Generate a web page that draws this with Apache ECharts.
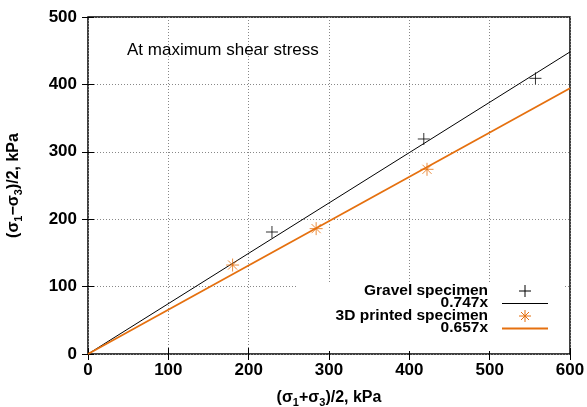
<!DOCTYPE html>
<html>
<head>
<meta charset="utf-8">
<script src="https://cdn.jsdelivr.net/npm/echarts@6/dist/echarts.min.js"></script>
<style>
  html, body { margin: 0; padding: 0; background: #fff; }
  #chart { width: 587px; height: 407px; }
</style>
</head>
<body>
<div id="chart"></div>
<script>
// gravel specimen points [p, q]
const gravelPts = [[229, 181], [418, 319], [557, 409]]
// 3D printed specimen points
const printedPts = [[180, 132], [284, 186], [422, 274]]
// fitted slopes
const gravelSlope = 0.747
const printedSlope = 0.657
const xMax = 600
const yMax = 500

const FONT = 'Liberation Sans, Arial, sans-serif'
const ORANGE = '#e5700f'

const plusPath = 'path://M0,5L10,5M5,0L5,10'
const starPath = 'path://M0,5L10,5M5,0L5,10M1.5,1.5L8.5,8.5M1.5,8.5L8.5,1.5'

function fitLine (k) {
  return [[0, 0], [xMax, k * xMax]]
}

const tickStyle = { show: true, inside: true, length: 6, lineStyle: { color: '#000', width: 1 } }
const gridLine = { show: true, lineStyle: { color: '#888', type: [1, 2], width: 1 } }
const nameRich = {
  b: { fontSize: 16, fontWeight: 'bold', color: '#000', fontFamily: FONT },
  s: { fontSize: 11, fontWeight: 'bold', color: '#000', fontFamily: FONT, padding: [9, 0, 0, 0] }
}
const legendFont = 'bold 15.5px ' + FONT

const chart = echarts.init(document.getElementById('chart'))
chart.setOption({
  animation: false,
  textStyle: { fontFamily: FONT },
  grid: {
    left: 88, right: 17, top: 17, bottom: 53,
    containLabel: false, outerBoundsMode: 'none',
    show: true, borderColor: '#000', borderWidth: 1.5
  },
  xAxis: [{
    type: 'value', min: 0, max: xMax, interval: 100,
    axisLine: { show: false },
    axisTick: tickStyle,
    splitLine: gridLine,
    axisLabel: { color: '#000', fontSize: 17, fontWeight: 'bold', margin: 8 },
    name: '{b|(σ}{s|1}{b|+σ}{s|3}{b|)/2, kPa}',
    nameLocation: 'middle',
    nameGap: 34,
    nameTextStyle: { rich: nameRich }
  }, {
    type: 'value', min: 0, max: xMax, interval: 100, position: 'top',
    axisLine: { show: false }, axisTick: tickStyle, axisLabel: { show: false }, splitLine: { show: false }
  }],
  yAxis: [{
    type: 'value', min: 0, max: yMax, interval: 100,
    axisLine: { show: false },
    axisTick: tickStyle,
    splitLine: gridLine,
    axisLabel: { color: '#000', fontSize: 17, fontWeight: 'bold', margin: 11 },
    name: '{b|(σ}{s|1}{b|−σ}{s|3}{b|)/2, kPa}',
    nameLocation: 'middle',
    nameGap: 64,
    nameTextStyle: { rich: nameRich }
  }, {
    type: 'value', min: 0, max: yMax, interval: 100, position: 'right',
    axisLine: { show: false }, axisTick: tickStyle, axisLabel: { show: false }, splitLine: { show: false }
  }],
  series: [{
    name: 'Gravel specimen',
    type: 'scatter',
    data: gravelPts,
    symbol: plusPath,
    symbolSize: 12,
    itemStyle: { color: 'transparent', borderColor: '#000', borderWidth: 1 },
    z: 5
  }, {
    name: '0.747x',
    type: 'line',
    data: fitLine(gravelSlope),
    showSymbol: false,
    lineStyle: { color: '#000', width: 1 },
    z: 4
  }, {
    name: '3D printed specimen',
    type: 'scatter',
    data: printedPts,
    symbol: starPath,
    symbolSize: 13,
    itemStyle: { color: 'transparent', borderColor: ORANGE, borderWidth: 1 },
    z: 5
  }, {
    name: '0.657x',
    type: 'line',
    data: fitLine(printedSlope),
    showSymbol: false,
    lineStyle: { color: ORANGE, width: 1.8 },
    z: 4
  }],
  graphic: [
    {
      type: 'text', z: 10,
      style: { text: 'At maximum shear stress', x: 127, y: 50, verticalAlign: 'middle', font: '17px ' + FONT, fill: '#000' }
    },
    // legend box (hides grid behind it)
    { type: 'rect', shape: { x: 297, y: 283, width: 268, height: 68 }, style: { fill: '#fff' }, z: 1 },
    { type: 'text', z: 10, style: { text: 'Gravel specimen', x: 488, y: 290.5, align: 'right', verticalAlign: 'middle', font: legendFont, fill: '#000' } },
    { type: 'text', z: 10, style: { text: '0.747x', x: 488, y: 303, align: 'right', verticalAlign: 'middle', font: legendFont, fill: '#000' } },
    { type: 'text', z: 10, style: { text: '3D printed specimen', x: 488, y: 315.5, align: 'right', verticalAlign: 'middle', font: legendFont, fill: '#000' } },
    { type: 'text', z: 10, style: { text: '0.657x', x: 488, y: 328, align: 'right', verticalAlign: 'middle', font: legendFont, fill: '#000' } },
    { type: 'line', z: 10, shape: { x1: 519, y1: 291, x2: 531, y2: 291 }, style: { stroke: '#000', lineWidth: 1 } },
    { type: 'line', z: 10, shape: { x1: 525, y1: 285, x2: 525, y2: 297 }, style: { stroke: '#000', lineWidth: 1 } },
    { type: 'line', z: 10, shape: { x1: 502, y1: 303.5, x2: 548, y2: 303.5 }, style: { stroke: '#000', lineWidth: 1 } },
    { type: 'line', z: 10, shape: { x1: 519, y1: 316, x2: 531, y2: 316 }, style: { stroke: ORANGE, lineWidth: 1 } },
    { type: 'line', z: 10, shape: { x1: 525, y1: 310, x2: 525, y2: 322 }, style: { stroke: ORANGE, lineWidth: 1 } },
    { type: 'line', z: 10, shape: { x1: 521, y1: 312, x2: 529, y2: 320 }, style: { stroke: ORANGE, lineWidth: 1 } },
    { type: 'line', z: 10, shape: { x1: 521, y1: 320, x2: 529, y2: 312 }, style: { stroke: ORANGE, lineWidth: 1 } },
    { type: 'line', z: 10, shape: { x1: 502, y1: 328.5, x2: 548, y2: 328.5 }, style: { stroke: ORANGE, lineWidth: 1.8 } }
  ]
})
</script>
</body>
</html>
